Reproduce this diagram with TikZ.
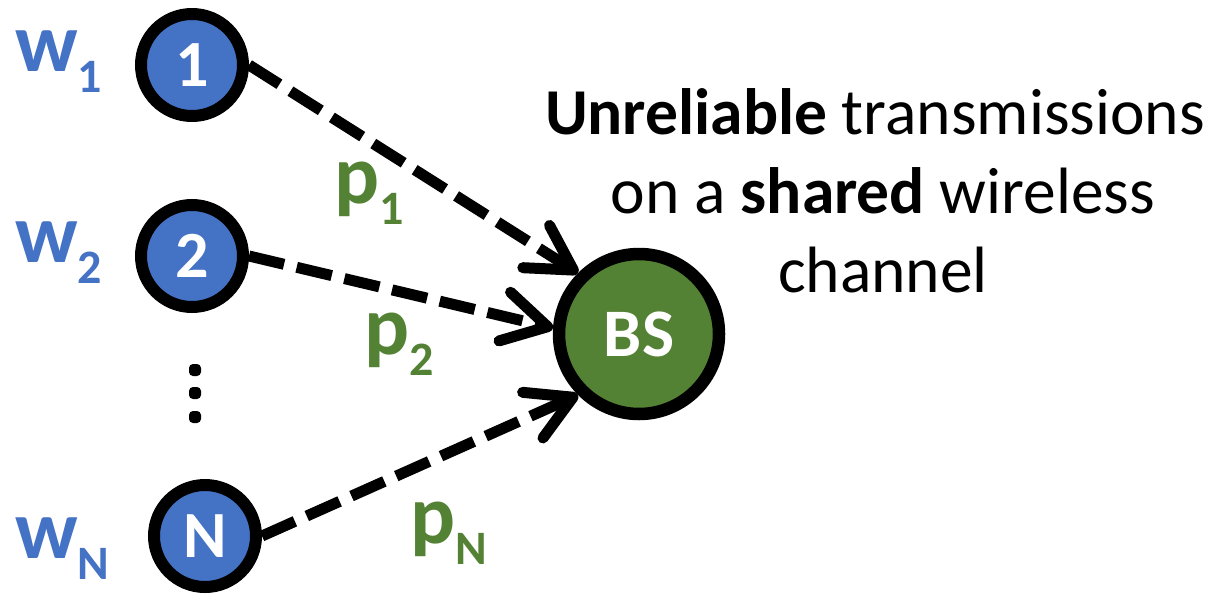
\documentclass[tikz,border=0pt]{standalone}
\usepackage{fontspec}
\setmainfont{Carlito}
\usetikzlibrary{arrows.meta}
\definecolor{nodeblue}{HTML}{4472C4}
\definecolor{bsgreen}{HTML}{548235}
\newcommand\lowsub[1]{\raisebox{-21pt}{\fontsize{48}{48}\selectfont #1}}
\begin{document}
\begin{tikzpicture}[x=1pt,y=-1pt,
  user/.style={circle, draw=black, line width=12pt, fill=nodeblue, minimum size=102pt,
    inner sep=0pt, text=white, font=\fontsize{66}{66}\selectfont\bfseries},
  station/.style={circle, draw=black, line width=12.5pt, fill=bsgreen, minimum size=160pt,
    inner sep=0pt, text=white, font=\fontsize{68}{68}\selectfont\bfseries},
  wlab/.style={anchor=base west, inner sep=0pt, text=nodeblue, font=\fontsize{84}{84}\selectfont\bfseries},
  plab/.style={anchor=base west, inner sep=0pt, text=bsgreen, font=\fontsize{84}{84}\selectfont\bfseries},
  dotmark/.style={rectangle, rounded corners=4pt, fill=black, minimum size=12pt, inner sep=0pt},
  txt/.style={anchor=base, inner sep=0pt, font=\fontsize{65.5}{65.5}\selectfont},
  edge/.style={line width=11pt, dash pattern=on 36pt off 13pt,
    -{Straight Barb[length=44pt, width=50pt, round]}}
]
\useasboundingbox (0,0) rectangle (1230,599);
\node[user] (n1) at (192,65) {1};
\node[user] (n2) at (192,256) {2};
\node[user] (nN) at (205,536) {N};
\node[station] (bs) at (639,334) {BS};
\node[dotmark] (d1) at (195,370) {};
\node[dotmark] (d2) at (195,393) {};
\node[dotmark] (d3) at (195,417) {};
\node[wlab] (w1) at (15,72) {w\lowsub{1}};
\node[wlab] (w2) at (15,262) {w\lowsub{2}};
\node[wlab] (wN) at (15,558) {w\lowsub{N}};
\node[plab] (p1) at (334,203) {p\lowsub{1}};
\node[plab] (p2) at (364,354) {p\lowsub{2}};
\node[plab] (pN) at (410,543) {p\lowsub{N}};
\node[txt] (t1) at (875,135) {\textbf{Unreliable} transmissions};
\node[txt] (t2) at (883,213) {on a \textbf{shared} wireless};
\node[txt] (t3) at (883,292) {channel};
\draw[edge] (n1.east) -- (bs.135);
\draw[edge] (n2.east) -- (bs.176);
\draw[edge] (nN.east) -- (bs.225);
\end{tikzpicture}
\end{document}
